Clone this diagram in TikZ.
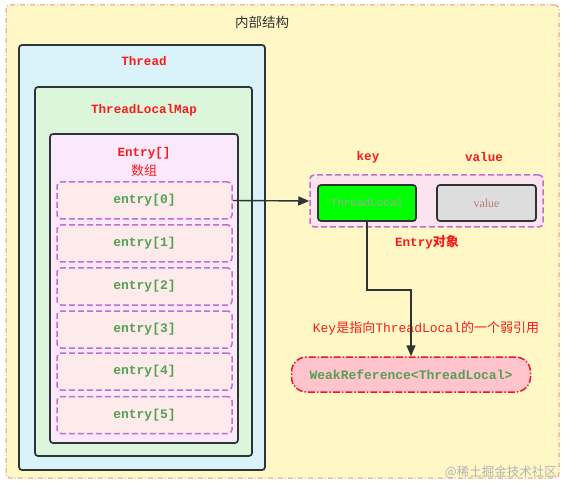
\documentclass[tikz,border=0pt]{standalone}
\usepackage{fontspec}
\setmainfont{Liberation Serif}
\newfontfamily\monob{Liberation Mono}
\newfontfamily\cjk{Noto Sans CJK SC}
\usetikzlibrary{arrows.meta}
\definecolor{outerfill}{HTML}{FFF8C6}
\definecolor{outerline}{HTML}{E39A72}
\definecolor{threadfill}{HTML}{DAF3FA}
\definecolor{mapfill}{HTML}{DCF6DC}
\definecolor{arrfill}{HTML}{FCE8FB}
\definecolor{entfill}{HTML}{FDEAEA}
\definecolor{purpline}{HTML}{BE6FD0}
\definecolor{redtxt}{HTML}{F51C1C}
\definecolor{greentxt}{HTML}{55A055}
\definecolor{darkline}{HTML}{2E3436}
\definecolor{objfill}{HTML}{FCE4EE}
\definecolor{tlfill}{HTML}{00FF00}
\definecolor{valfill}{HTML}{DDDDDD}
\definecolor{weakfill}{HTML}{FFC4CC}
\definecolor{weakline}{HTML}{E8182A}
\begin{document}
\begin{tikzpicture}[x=1pt,y=-1pt,
  box/.style={draw=darkline, line width=1.7pt, rounded corners=3pt},
  entrybox/.style={draw=purpline, fill=entfill, line width=1.5pt, dash pattern=on 6pt off 3pt, rounded corners=4pt, minimum width=175pt, minimum height=37pt, inner sep=0pt, font=\monob\bfseries\fontsize{13}{15}\selectfont, text=greentxt},
  redtitle/.style={font=\monob\bfseries\fontsize{12.6}{14}\selectfont, text=redtxt, inner sep=0pt},
  arr/.style={draw=darkline, line width=1.4pt, -{Triangle[length=11pt,width=9pt]}}
]
\useasboundingbox (0,0) rectangle (563,484);
\fill[white] (0,0) rectangle (563,484);
% outer container
\node[draw=outerline, fill=outerfill, line width=1pt, dash pattern=on 5pt off 2pt on 1pt off 2pt, rounded corners=4pt, minimum width=553pt, minimum height=473pt, inner sep=0pt] (outer) at (282.5,241.5) {};
\node[font=\cjk\fontsize{13.5}{15}\selectfont, text=black!80, inner sep=0pt] (title) at (262,22) {内部结构};
% Thread
\node[box, fill=threadfill, minimum width=246pt, minimum height=425pt, inner sep=0pt] (thread) at (142,257.5) {};
\node[redtitle] (threadt) at (144,61) {Thread};
\node[box, fill=mapfill, minimum width=217pt, minimum height=369pt, inner sep=0pt] (map) at (143.5,271.5) {};
\node[redtitle] (mapt) at (144,110) {ThreadLocalMap};
\node[box, fill=arrfill, minimum width=188pt, minimum height=309pt, inner sep=0pt] (arrbox) at (144,288.5) {};
\node[redtitle] (arrt) at (144,153) {Entry[]};
\node[font=\cjk\fontsize{13}{15}\selectfont, text=redtxt, inner sep=0pt] (arrt2) at (144,171) {数组};
% entries
\node[entrybox] (e0) at (144.5,200.5) {entry[0]};
\node[entrybox] (e1) at (144.5,243.5) {entry[1]};
\node[entrybox] (e2) at (144.5,286.5) {entry[2]};
\node[entrybox] (e3) at (144.5,329.5) {entry[3]};
\node[entrybox] (e4) at (144.5,371.5) {entry[4]};
\node[entrybox] (e5) at (144.5,415) {entry[5]};
% Entry object
\node[draw=purpline, fill=objfill, line width=1.5pt, dash pattern=on 6pt off 3pt, rounded corners=4pt, minimum width=233pt, minimum height=52pt, inner sep=0pt] (obj) at (426.5,201) {};
\node[box, fill=tlfill, minimum width=98pt, minimum height=36pt, inner sep=0pt, font=\monob\fontsize{11}{13}\selectfont, text=black!35] (tl) at (367,203) {ThreadLocal};
\node[box, fill=valfill, minimum width=99pt, minimum height=36pt, inner sep=0pt, font=\fontsize{12}{13}\selectfont, text=red!30!gray!80] (val) at (486.5,203) {value};
\node[redtitle] (keyt) at (368,157) {key};
\node[redtitle] (valt) at (484,157) {value};
\node[inner sep=0pt, text=redtxt] (objt) at (427,242) {\monob\bfseries\fontsize{12.6}{14}\selectfont Entry\cjk\fontsize{13}{15}\selectfont 对象};
% WeakReference
\node[draw=weakline, fill=weakfill, line width=1.5pt, dash pattern=on 7pt off 2pt on 1.5pt off 2pt, rounded corners=15pt, minimum width=239pt, minimum height=35pt, inner sep=0pt, font=\monob\bfseries\fontsize{13}{15}\selectfont, text=greentxt] (weak) at (411,374.5) {WeakReference<ThreadLocal>};
\node[inner sep=0pt, text=redtxt] (note) at (426,328) {\monob\fontsize{13}{15}\selectfont Key\cjk\fontsize{13}{15}\selectfont 是指向\monob ThreadLocal\cjk 的一个弱引用};
% connectors
\draw[arr] (e0.east) -- (obj.west);
\coordinate (bend) at (367,290);
\draw[arr] (tl.south) -- (bend) -| (weak.north);
% watermark
\node[font=\cjk\fontsize{12.5}{14}\selectfont, text=black!30, inner sep=0pt, anchor=east] (wm) at (557,472) {@稀土掘金技术社区};
\end{tikzpicture}
\end{document}
